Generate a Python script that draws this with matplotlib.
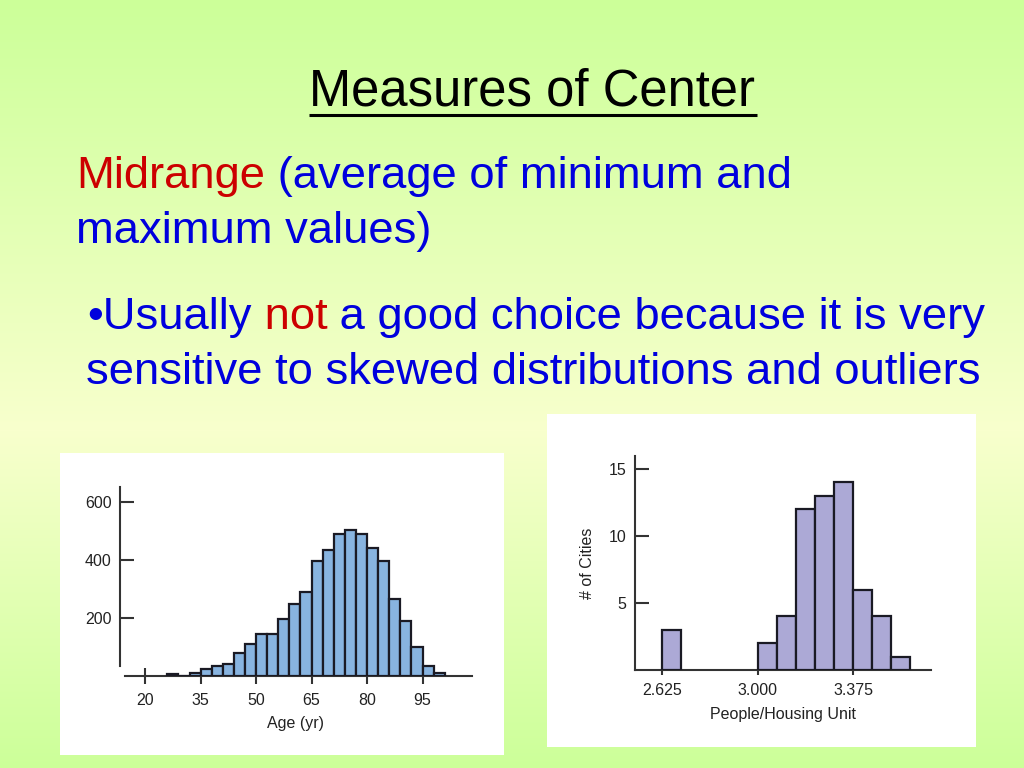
import numpy as np
import matplotlib
matplotlib.use("Agg")
import matplotlib.pyplot as plt
from matplotlib.patches import Rectangle

# slide text
title = "Measures of Center"
line1 = [("Midrange", "#cc0000"), (" (average of minimum and", "#0000dd")]
line2 = [("maximum values)", "#0000dd")]
line3 = [("\u2022Usually", "#0000dd"), (" not", "#cc0000"), (" a good choice because it is very", "#0000dd")]
line4 = [("sensitive to skewed distributions and outliers", "#0000dd")]

# left histogram: ages (3 year bins, left edges)
age_left = [26, 29, 32, 35, 38, 41, 44, 47, 50, 53, 56, 59, 62, 65, 68, 71,
            74, 77, 80, 83, 86, 89, 92, 95, 98]
age_counts = [6, 0, 10, 24, 34, 39, 77, 110, 145, 145, 194, 247, 290, 395, 433, 488,
              502, 488, 441, 397, 264, 190, 98, 34, 10]
age_xticks = [20, 35, 50, 65, 80, 95]
age_yticks = [200, 400, 600]

# right histogram: people per housing unit
pph_left = [2.625, 3.000, 3.075, 3.150, 3.225, 3.300, 3.375, 3.450, 3.525]
pph_counts = [3, 2, 4, 12, 13, 14, 6, 4, 1]
pph_xticks = [2.625, 3.000, 3.375]
pph_xlabels = ["2.625", "3.000", "3.375"]
pph_yticks = [5, 10, 15]

W, H = 1024, 768
fig = plt.figure(figsize=(W / 100, H / 100), dpi=100)

# background axes in pixel coordinates
bg = fig.add_axes([0, 0, 1, 1])
bg.set_xlim(0, W)
bg.set_ylim(H, 0)
bg.axis("off")

# vertical green -> pale yellow -> green gradient
ys = np.arange(H)
stops_y = [0, 430, H]
top = np.array([204, 255, 153]) / 255
mid = np.array([248, 255, 205]) / 255
grad = np.zeros((H, 1, 3))
for c in range(3):
    grad[:, 0, c] = np.interp(ys, stops_y, [top[c], mid[c], top[c]])
bg.imshow(grad, extent=(0, W, H, 0), aspect="auto", zorder=0)

# white picture panels
bg.add_patch(Rectangle((60, 453), 444, 302, facecolor="white", edgecolor="none", zorder=1))
bg.add_patch(Rectangle((547, 414), 429, 333, facecolor="white", edgecolor="none", zorder=1))

body_font = "Liberation Sans"
bg.text(532, 105, title, fontsize=36.5, family=body_font, ha="center", va="baseline", zorder=2)
bg.plot([309, 757], [114.5, 114.5], color="black", lw=2.2, solid_capstyle="butt", zorder=2)


def put_line(x, y, pieces, size=32.7):
    prev = None
    for s, col in pieces:
        if prev is None:
            prev = bg.text(x, y, s, color=col, fontsize=size, family=body_font,
                           ha="left", va="baseline", zorder=2)
        else:
            prev = bg.annotate(s, xy=(1, 0), xycoords=prev, color=col, fontsize=size,
                               family=body_font, ha="left", va="bottom", zorder=2)


put_line(76, 188, line1)
put_line(76, 243, line2)
put_line(87, 329, line3)
put_line(86, 384, line4)

chart_font = ["Liberation Sans Narrow", "Liberation Sans"]
edge_col = "#1a1a24"
axis_col = "#333333"
fs = 11.5

# ---- age histogram
ax1 = fig.add_axes([120 / W, (H - 675.7) / H, 351.7 / W, 188.4 / H])
ax1.patch.set_alpha(0)
ax1.bar(age_left, age_counts, width=3, align="edge", color="#88b4e0",
        edgecolor=edge_col, linewidth=1.6, zorder=3)
ax1.set_xlim(13.2, 108.3)
ax1.set_ylim(0, 650)
for sp in ["top", "right"]:
    ax1.spines[sp].set_visible(False)
ax1.spines["left"].set_bounds(34, 650)
ax1.spines["bottom"].set_bounds(14.6, 108.3)
for sp in ["left", "bottom"]:
    ax1.spines[sp].set_color(axis_col)
    ax1.spines[sp].set_linewidth(1.5)
ax1.set_xticks(age_xticks)
ax1.set_yticks(age_yticks)
ax1.tick_params(axis="y", direction="in", length=10, width=1.5, color=axis_col, pad=6,
                labelsize=fs, labelcolor="#222222")
ax1.tick_params(axis="x", direction="inout", length=11, width=1.5, color=axis_col, pad=7,
                labelsize=fs, labelcolor="#222222")
for lab in ax1.get_xticklabels() + ax1.get_yticklabels():
    lab.set_family(chart_font)
ax1.set_xlabel("Age (yr)", fontsize=fs, family=chart_font, color="#222222", labelpad=6)

# ---- people per housing unit histogram
ax2 = fig.add_axes([635.3 / W, (H - 670) / H, 296 / W, 214.3 / H])
ax2.patch.set_alpha(0)
ax2.bar(pph_left, pph_counts, width=0.075, align="edge", color="#aca9d6",
        edgecolor=edge_col, linewidth=1.6, zorder=3)
ax2.set_xlim(2.519, 3.683)
ax2.set_ylim(0, 16)
for sp in ["top", "right"]:
    ax2.spines[sp].set_visible(False)
for sp in ["left", "bottom"]:
    ax2.spines[sp].set_color(axis_col)
    ax2.spines[sp].set_linewidth(1.5)
ax2.set_xticks(pph_xticks)
ax2.set_xticklabels(pph_xlabels)
ax2.set_yticks(pph_yticks)
ax2.tick_params(axis="y", direction="in", length=10, width=1.5, color=axis_col, pad=6.5,
                labelsize=fs, labelcolor="#222222")
ax2.tick_params(axis="x", direction="out", length=3.6, width=1.5, color=axis_col, pad=5.5,
                labelsize=fs, labelcolor="#222222")
for lab in ax2.get_xticklabels() + ax2.get_yticklabels():
    lab.set_family(chart_font)
ax2.set_xlabel("People/Housing Unit", fontsize=fs, family=chart_font, color="#222222", labelpad=7)
ax2.set_ylabel("# of Cities", fontsize=fs, family=chart_font, color="#222222", labelpad=10)

fig.savefig("out.png", dpi=100)
